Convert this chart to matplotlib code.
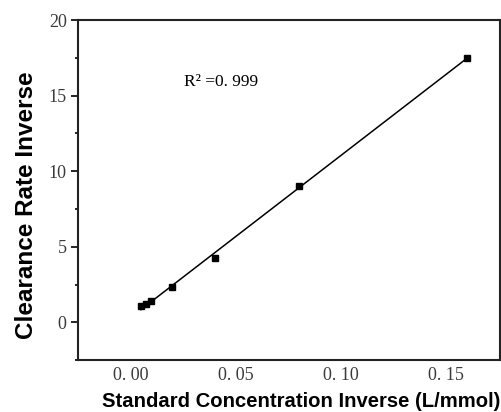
import numpy as np
import matplotlib
matplotlib.use("Agg")
import matplotlib.pyplot as plt
import matplotlib.ticker as ticker

# data
conc_inv = [0.005, 0.0075, 0.01, 0.02, 0.04, 0.08, 0.16]
rate_inv = [1.06, 1.2, 1.38, 2.32, 4.25, 9.03, 17.5]
xtick_vals = [0.00, 0.05, 0.10, 0.15]
xtick_labels = ["0. 00", "0. 05", "0. 10", "0. 15"]
ytick_vals = [0, 5, 10, 15, 20]
r2_text = "R² =0. 999"

serif = "Liberation Serif"
sans = "Liberation Sans"

fig = plt.figure(figsize=(5.02, 4.12), dpi=100)
ax = fig.add_axes([0.155, 0.126, 0.841, 0.825])

x = np.array(conc_inv)
y = np.array(rate_inv)
slope, icept = np.polyfit(x, y, 1)
xl = np.array([x.min(), x.max()])
ax.plot(xl, slope * xl + icept, color="black", lw=1.1)
ax.plot(x, y, "s", color="black", ms=5)

ax.set_xlim(-0.025, 0.1757)
ax.set_ylim(-2.5, 20)
ax.set_xticks(xtick_vals)
ax.set_xticklabels(xtick_labels, fontfamily=serif, fontsize=13, color="#3a3a3a")
ax.set_yticks(ytick_vals)
ax.set_yticklabels([str(v) for v in ytick_vals], fontfamily=serif, fontsize=13, color="#3a3a3a")
ax.yaxis.set_minor_locator(ticker.MultipleLocator(2.5))
ax.tick_params(axis="x", length=0, pad=5)
ax.tick_params(axis="y", which="major", direction="out", length=5, width=1.2, pad=3)
ax.tick_params(axis="y", which="minor", direction="out", length=2, width=1.2)

for s in ax.spines.values():
    s.set_linewidth(1.5)
    s.set_color("#222222")

ax.text(0.0257, 15.9, r2_text, fontfamily=serif, fontsize=12.5, va="center")

ax.set_xlabel("Standard Concentration Inverse (L/mmol)", fontfamily=sans,
              fontsize=14.6, fontweight="bold", va="center")
ax.xaxis.set_label_coords(0.528, -0.121)
ax.set_ylabel("Clearance Rate Inverse", fontfamily=sans, fontsize=17.5,
              fontweight="bold", va="center")
ax.yaxis.set_label_coords(-0.122, 0.456)

fig.savefig("out.png", dpi=100)
